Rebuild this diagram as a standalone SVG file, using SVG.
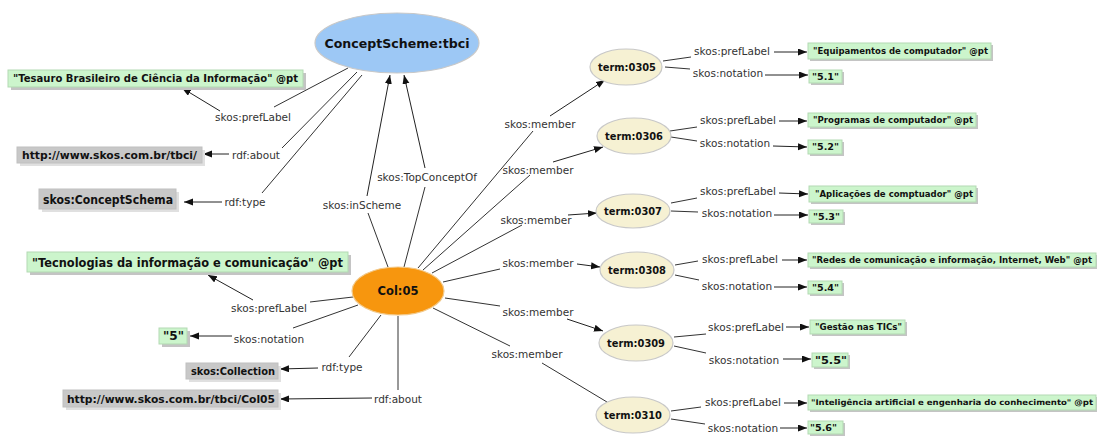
<svg xmlns="http://www.w3.org/2000/svg" width="1097" height="436" viewBox="0 0 1097 436">
<style>
.bg{fill:#ffffff}
.e{stroke:#c8c8c8;stroke-width:1.2}
.cs{fill:#9dc8f5}
.col{fill:#f7960e;stroke:#f2c98a}
.term{fill:#f6f1d3}
.nt{font-family:"DejaVu Sans",Verdana,sans-serif;font-weight:bold;fill:#111;text-anchor:middle;dominant-baseline:central}
.lit{fill:#ccf5cc;stroke:#b3d9b3;stroke-width:1}
.uri{fill:#c8c8c8;stroke:#c0c0c0;stroke-width:1}
.sh{fill:#c4c4c4}
.shu{fill:#e0e0e0}
.bt{font-family:"DejaVu Sans",Verdana,sans-serif;font-weight:bold;fill:#111;dominant-baseline:central}
.ln{stroke:#333;stroke-width:1;fill:none}
.ar{stroke:#222;stroke-width:1;fill:none;marker-end:url(#ah)}
.lb{font-family:"DejaVu Sans",Verdana,sans-serif;font-size:10.5px;fill:#333;text-anchor:middle;dominant-baseline:central}
</style>
<defs>
<marker id="ah" markerUnits="userSpaceOnUse" markerWidth="10" markerHeight="8" refX="9" refY="3.5" orient="auto">
<path d="M0,0 L9,3.5 L0,7 z" fill="#111"/>
</marker>
</defs>
<rect class="bg" x="0" y="0" width="1097" height="436"/>

<g id="connectors">
<!-- ConceptScheme edges -->
<line class="ln" x1="348" y1="68" x2="274" y2="107"/>
<line class="ar" x1="220" y1="111" x2="182" y2="88"/>
<text class="lb" x="253" y="117">skos:prefLabel</text>
<line class="ln" x1="357" y1="72" x2="282" y2="148"/>
<line class="ar" x1="229" y1="154" x2="203" y2="154"/>
<text class="lb" x="256" y="155">rdf:about</text>
<line class="ln" x1="362" y1="75" x2="262" y2="193"/>
<line class="ar" x1="222" y1="202" x2="184" y2="202"/>
<text class="lb" x="245" y="202">rdf:type</text>
<!-- Col to ConceptScheme -->
<line class="ln" x1="388" y1="267" x2="368" y2="213"/>
<line class="ar" x1="367" y1="196" x2="390" y2="75"/>
<text class="lb" x="362" y="205">skos:inScheme</text>
<line class="ln" x1="404" y1="267" x2="425" y2="187"/>
<line class="ar" x1="425" y1="168" x2="404" y2="75"/>
<text class="lb" x="427" y="177">skos:TopConceptOf</text>
<!-- Col left edges -->
<line class="ln" x1="353" y1="297" x2="310" y2="302"/>
<line class="ar" x1="253" y1="300" x2="208" y2="275"/>
<text class="lb" x="269" y="308">skos:prefLabel</text>
<line class="ln" x1="358" y1="305" x2="293" y2="328"/>
<line class="ar" x1="232" y1="336" x2="190" y2="336"/>
<text class="lb" x="269" y="339">skos:notation</text>
<line class="ln" x1="381" y1="315" x2="349" y2="357"/>
<line class="ar" x1="318" y1="368" x2="280" y2="369"/>
<text class="lb" x="342" y="367">rdf:type</text>
<line class="ln" x1="398" y1="316" x2="398" y2="390"/>
<line class="ar" x1="372" y1="398" x2="280" y2="399"/>
<text class="lb" x="398" y="399">rdf:about</text>
<!-- skos:member -->
<line class="ln" x1="418" y1="268" x2="533" y2="131"/>
<line class="ar" x1="550" y1="116" x2="605" y2="80"/>
<text class="lb" x="540" y="124">skos:member</text>
<line class="ln" x1="423" y1="270" x2="530" y2="175"/>
<line class="ar" x1="553" y1="162" x2="603" y2="147"/>
<text class="lb" x="538" y="170">skos:member</text>
<line class="ln" x1="432" y1="273" x2="522" y2="225"/>
<line class="ar" x1="568" y1="215" x2="597" y2="213"/>
<text class="lb" x="536" y="220">skos:member</text>
<line class="ln" x1="443" y1="282" x2="500" y2="269"/>
<line class="ar" x1="577" y1="264" x2="600" y2="267"/>
<text class="lb" x="538" y="263">skos:member</text>
<line class="ln" x1="445" y1="298" x2="500" y2="306"/>
<line class="ar" x1="567" y1="319" x2="603" y2="331"/>
<text class="lb" x="538" y="312">skos:member</text>
<line class="ln" x1="433" y1="308" x2="510" y2="346"/>
<line class="ln" x1="542" y1="363" x2="607" y2="402"/>
<text class="lb" x="527" y="354">skos:member</text>
<!-- term:0305 -->
<line class="ln" x1="663" y1="61" x2="691" y2="57"/>
<line class="ar" x1="774" y1="52" x2="807" y2="52"/>
<text class="lb" x="732" y="51">skos:prefLabel</text>
<line class="ln" x1="665" y1="67" x2="690" y2="69"/>
<line class="ar" x1="765" y1="75" x2="808" y2="75"/>
<text class="lb" x="728" y="73">skos:notation</text>
<!-- term:0306 -->
<line class="ln" x1="670" y1="131" x2="697" y2="127"/>
<line class="ar" x1="779" y1="121" x2="807" y2="121"/>
<text class="lb" x="738" y="120">skos:prefLabel</text>
<line class="ln" x1="671" y1="137" x2="697" y2="141"/>
<line class="ar" x1="773" y1="146" x2="807" y2="147"/>
<text class="lb" x="735" y="143">skos:notation</text>
<!-- term:0307 -->
<line class="ln" x1="671" y1="203" x2="697" y2="198"/>
<line class="ar" x1="779" y1="193" x2="808" y2="194"/>
<text class="lb" x="738" y="191">skos:prefLabel</text>
<line class="ln" x1="671" y1="211" x2="698" y2="212"/>
<line class="ar" x1="774" y1="215" x2="808" y2="215"/>
<text class="lb" x="737" y="213">skos:notation</text>
<!-- term:0308 -->
<line class="ln" x1="675" y1="265" x2="698" y2="261"/>
<line class="ar" x1="782" y1="260" x2="807" y2="260"/>
<text class="lb" x="740" y="259">skos:prefLabel</text>
<line class="ln" x1="675" y1="275" x2="699" y2="280"/>
<line class="ar" x1="774" y1="287" x2="807" y2="287"/>
<text class="lb" x="737" y="286">skos:notation</text>
<!-- term:0309 -->
<line class="ln" x1="674" y1="337" x2="706" y2="334"/>
<line class="ar" x1="786" y1="327" x2="809" y2="327"/>
<text class="lb" x="746" y="327">skos:prefLabel</text>
<line class="ln" x1="674" y1="346" x2="706" y2="353"/>
<line class="ar" x1="783" y1="359" x2="811" y2="359"/>
<text class="lb" x="744" y="360">skos:notation</text>
<!-- term:0310 -->
<line class="ln" x1="671" y1="411" x2="701" y2="407"/>
<line class="ar" x1="784" y1="403" x2="807" y2="403"/>
<text class="lb" x="743" y="402">skos:prefLabel</text>
<line class="ln" x1="671" y1="419" x2="705" y2="424"/>
<line class="ar" x1="780" y1="428" x2="807" y2="428"/>
<text class="lb" x="743" y="428">skos:notation</text>
</g>

<g id="conceptscheme">
<ellipse class="e cs" cx="397" cy="43" rx="82" ry="30"/>
<text class="nt" x="397" y="43" font-size="12.5" textLength="145" lengthAdjust="spacingAndGlyphs">ConceptScheme:tbci</text>
</g>
<g id="col05">
<ellipse class="col" cx="398" cy="291" rx="46" ry="24" stroke-width="1.2"/>
<text class="nt" x="398" y="291" font-size="11.5" textLength="41" lengthAdjust="spacingAndGlyphs">Col:05</text>
</g>
<g id="term0305">
<ellipse class="e term" cx="626" cy="67" rx="36" ry="18"/>
<text class="nt" x="627" y="67" font-size="9.8" textLength="58" lengthAdjust="spacingAndGlyphs">term:0305</text>
</g>
<g id="term0306">
<ellipse class="e term" cx="634" cy="136" rx="37" ry="18"/>
<text class="nt" x="634" y="136" font-size="9.8" textLength="58" lengthAdjust="spacingAndGlyphs">term:0306</text>
</g>
<g id="term0307">
<ellipse class="e term" cx="633" cy="211" rx="37" ry="17"/>
<text class="nt" x="633" y="211" font-size="9.8" textLength="58" lengthAdjust="spacingAndGlyphs">term:0307</text>
</g>
<g id="term0308">
<ellipse class="e term" cx="637" cy="270" rx="37" ry="18"/>
<text class="nt" x="637" y="270" font-size="9.8" textLength="58" lengthAdjust="spacingAndGlyphs">term:0308</text>
</g>
<g id="term0309">
<ellipse class="e term" cx="636" cy="343" rx="37" ry="18"/>
<text class="nt" x="636" y="343" font-size="9.8" textLength="58" lengthAdjust="spacingAndGlyphs">term:0309</text>
</g>
<g id="term0310">
<ellipse class="e term" cx="633" cy="415" rx="37" ry="18"/>
<text class="nt" x="633" y="415" font-size="9.8" textLength="58" lengthAdjust="spacingAndGlyphs">term:0310</text>
</g>

<!-- left literal / resource boxes -->
<g id="lit-tesauro">
<rect class="sh" x="11" y="73" width="295" height="17"/>
<rect class="lit" x="8" y="70" width="295" height="17"/>
<text class="bt" x="13" y="78.5" font-size="10" textLength="285" lengthAdjust="spacingAndGlyphs">"Tesauro Brasileiro de Ciência da Informação" @pt</text>
</g>
<g id="uri-tbci">
<rect class="shu" x="20" y="150" width="185" height="16"/>
<rect class="uri" x="17" y="147" width="185" height="16"/>
<text class="bt" x="22" y="155" font-size="10" textLength="175" lengthAdjust="spacingAndGlyphs">http://www.skos.com.br/tbci/</text>
</g>
<g id="cls-conceptschema">
<rect class="shu" x="42" y="192" width="137" height="20"/>
<rect class="uri" x="39" y="189" width="137" height="20"/>
<text class="bt" x="43" y="199.5" font-size="12" textLength="130" lengthAdjust="spacingAndGlyphs">skos:ConceptSchema</text>
</g>
<g id="lit-tecnologias">
<rect class="sh" x="30" y="255" width="321" height="20"/>
<rect class="lit" x="27" y="252" width="321" height="20"/>
<text class="bt" x="32" y="262.5" font-size="12" textLength="311" lengthAdjust="spacingAndGlyphs">"Tecnologias da informação e comunicação" @pt</text>
</g>
<g id="lit-5">
<rect class="sh" x="162" y="331" width="28" height="16"/>
<rect class="lit" x="159" y="328" width="28" height="16"/>
<text class="bt" x="163" y="336" font-size="12" textLength="21" lengthAdjust="spacingAndGlyphs">"5"</text>
</g>
<g id="cls-collection">
<rect class="shu" x="189" y="366" width="92" height="16"/>
<rect class="uri" x="186" y="363" width="92" height="16"/>
<text class="bt" x="191" y="371" font-size="10" textLength="84" lengthAdjust="spacingAndGlyphs">skos:Collection</text>
</g>
<g id="uri-col05">
<rect class="shu" x="66" y="393" width="215" height="17"/>
<rect class="uri" x="63" y="390" width="215" height="17"/>
<text class="bt" x="67" y="398.5" font-size="10.5" textLength="208" lengthAdjust="spacingAndGlyphs">http://www.skos.com.br/tbci/Col05</text>
</g>

<!-- right literal boxes -->
<g id="lit-0305-label">
<rect class="sh" x="810" y="45" width="183" height="16"/>
<rect class="lit" x="808" y="43" width="183" height="16"/>
<text class="bt" x="813" y="51" font-size="9" textLength="175" lengthAdjust="spacingAndGlyphs">"Equipamentos de computador" @pt</text>
</g>
<g id="lit-0305-not">
<rect class="sh" x="811" y="72" width="33" height="13"/>
<rect class="lit" x="809" y="70" width="33" height="13"/>
<text class="bt" x="812" y="76.5" font-size="9" textLength="27" lengthAdjust="spacingAndGlyphs">"5.1"</text>
</g>
<g id="lit-0306-label">
<rect class="sh" x="810" y="115" width="168" height="14"/>
<rect class="lit" x="808" y="113" width="168" height="14"/>
<text class="bt" x="813" y="120" font-size="9" textLength="160" lengthAdjust="spacingAndGlyphs">"Programas de computador" @pt</text>
</g>
<g id="lit-0306-not">
<rect class="sh" x="810" y="142" width="34" height="14"/>
<rect class="lit" x="808" y="140" width="34" height="14"/>
<text class="bt" x="812" y="147" font-size="9" textLength="27" lengthAdjust="spacingAndGlyphs">"5.2"</text>
</g>
<g id="lit-0307-label">
<rect class="sh" x="811" y="188" width="167" height="16"/>
<rect class="lit" x="809" y="186" width="167" height="16"/>
<text class="bt" x="815" y="194" font-size="9" textLength="158" lengthAdjust="spacingAndGlyphs">"Aplicações de comptuador" @pt</text>
</g>
<g id="lit-0307-not">
<rect class="sh" x="811" y="212" width="34" height="13"/>
<rect class="lit" x="809" y="210" width="34" height="13"/>
<text class="bt" x="813" y="216.5" font-size="9" textLength="27" lengthAdjust="spacingAndGlyphs">"5.3"</text>
</g>
<g id="lit-0308-label">
<rect class="sh" x="810" y="255" width="287" height="14"/>
<rect class="lit" x="808" y="253" width="288" height="14"/>
<text class="bt" x="812" y="260" font-size="8" textLength="280" lengthAdjust="spacingAndGlyphs">"Redes de comunicação e informação, Internet, Web" @pt</text>
</g>
<g id="lit-0308-not">
<rect class="sh" x="810" y="283" width="34" height="13"/>
<rect class="lit" x="808" y="281" width="34" height="13"/>
<text class="bt" x="812" y="287.5" font-size="9" textLength="27" lengthAdjust="spacingAndGlyphs">"5.4"</text>
</g>
<g id="lit-0309-label">
<rect class="sh" x="812" y="322" width="95" height="14"/>
<rect class="lit" x="810" y="320" width="95" height="14"/>
<text class="bt" x="815" y="327" font-size="9" textLength="87" lengthAdjust="spacingAndGlyphs">"Gestão nas TICs"</text>
</g>
<g id="lit-0309-not">
<rect class="sh" x="814" y="355" width="36" height="14"/>
<rect class="lit" x="812" y="353" width="36" height="14"/>
<text class="bt" x="815" y="360" font-size="11" textLength="32" lengthAdjust="spacingAndGlyphs">"5.5"</text>
</g>
<g id="lit-0310-label">
<rect class="sh" x="810" y="397" width="287" height="15"/>
<rect class="lit" x="808" y="395" width="288" height="15"/>
<text class="bt" x="811" y="402.5" font-size="7.8" textLength="282" lengthAdjust="spacingAndGlyphs">"Inteligência artificial e engenharia do conhecimento" @pt</text>
</g>
<g id="lit-0310-not">
<rect class="sh" x="810" y="423" width="35" height="13"/>
<rect class="lit" x="808" y="421" width="35" height="13"/>
<text class="bt" x="810" y="427.5" font-size="9" textLength="27" lengthAdjust="spacingAndGlyphs">"5.6"</text>
</g>
</svg>
